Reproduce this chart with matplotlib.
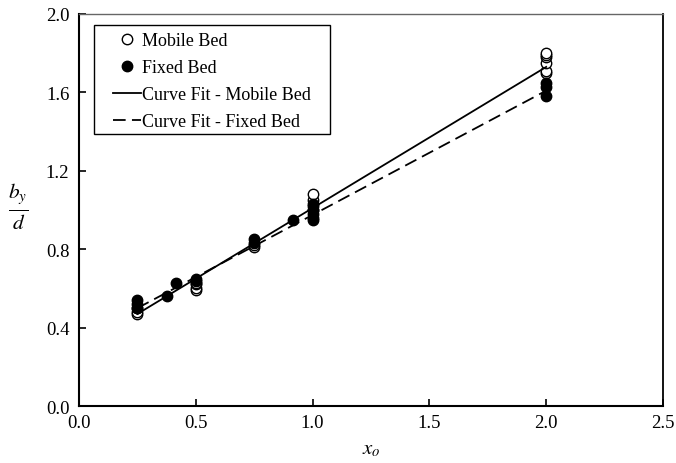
import numpy as np
import matplotlib.pyplot as plt
from matplotlib.patches import Rectangle

plt.rcParams['font.family'] = ['Liberation Serif', 'DejaVu Serif']
plt.rcParams['mathtext.fontset'] = 'stix'

# Measured ratios b_y/d against x_o
mobile_x = [0.25, 0.25, 0.25, 0.5, 0.5, 0.5, 0.5, 0.75, 0.75,
            1.0, 1.0, 1.0, 1.0, 2.0, 2.0, 2.0, 2.0, 2.0, 2.0]
mobile_y = [0.47, 0.48, 0.50, 0.59, 0.60, 0.62, 0.63, 0.81, 0.82,
            1.00, 1.02, 1.05, 1.08, 1.70, 1.71, 1.75, 1.78, 1.79, 1.80]

fixed_x = [0.25, 0.25, 0.25, 0.375, 0.417, 0.5, 0.5, 0.75, 0.75, 0.917,
           1.0, 1.0, 1.0, 1.0, 1.0, 2.0, 2.0, 2.0]
fixed_y = [0.50, 0.52, 0.54, 0.56, 0.63, 0.64, 0.65, 0.83, 0.85, 0.95,
           0.95, 0.96, 0.98, 1.00, 1.03, 1.58, 1.63, 1.65]

# Linear fits (slope, intercept) over 0.25 <= x_o <= 2.0
fit_range = [0.25, 2.0]
mobile_fit = (0.72, 0.29)
fixed_fit = (0.634, 0.341)

fig = plt.figure(figsize=(6.76, 4.64), dpi=100)
ax = fig.add_axes([0.1169, 0.1228, 0.8639, 0.8449])

ax.plot(mobile_x, mobile_y, 'o', mfc='white', mec='black', mew=1.0, ms=7.5,
        label='Mobile Bed', zorder=3)
ax.plot(fixed_x, fixed_y, 'o', mfc='black', mec='black', ms=7.5,
        label='Fixed Bed', zorder=3)

xf = np.array(fit_range)
ax.plot(xf, mobile_fit[0] * xf + mobile_fit[1], '-', color='black', lw=1.3,
        label='Curve Fit - Mobile Bed', zorder=4)
ax.plot(xf, fixed_fit[0] * xf + fixed_fit[1], '--', color='black', lw=1.3,
        dashes=(7, 3.5), label='Curve Fit - Fixed Bed', zorder=4)

ax.set_xlim(0, 2.5)
ax.set_ylim(0, 2.0)
ax.set_xticks(np.arange(0, 2.51, 0.5))
ax.set_yticks(np.arange(0, 2.01, 0.4))
ax.xaxis.set_major_formatter(plt.FormatStrFormatter('%.1f'))
ax.yaxis.set_major_formatter(plt.FormatStrFormatter('%.1f'))
ax.tick_params(direction='in', length=5, width=1.2, labelsize=13.5, colors='black')
ax.tick_params(axis='x', pad=6)
ax.tick_params(axis='y', pad=7)

for side in ['left', 'bottom']:
    ax.spines[side].set_linewidth(1.5)
ax.spines['right'].set_linewidth(1.3)
ax.spines['top'].set_linewidth(1.0)
ax.spines['top'].set_color('#666666')

ax.set_xlabel(r'$x_o$', fontsize=15, labelpad=6)
fig.text(0.027, 0.555, r'$\frac{b_y}{d}$', fontsize=22, ha='center', va='center')

# legend entries without frame, boxed by a separate rectangle
leg = ax.legend(loc='upper left', bbox_to_anchor=(0.059, 0.954), borderaxespad=0,
                fontsize=13, frameon=False, handlelength=1.5,
                handletextpad=0.1, labelspacing=0.56, borderpad=0)
ax.add_patch(Rectangle((0.0257, 0.694), 0.404, 0.278, transform=ax.transAxes,
                       fill=False, edgecolor='black', lw=1.0, zorder=5))

fig.savefig('out.png', dpi=100)
